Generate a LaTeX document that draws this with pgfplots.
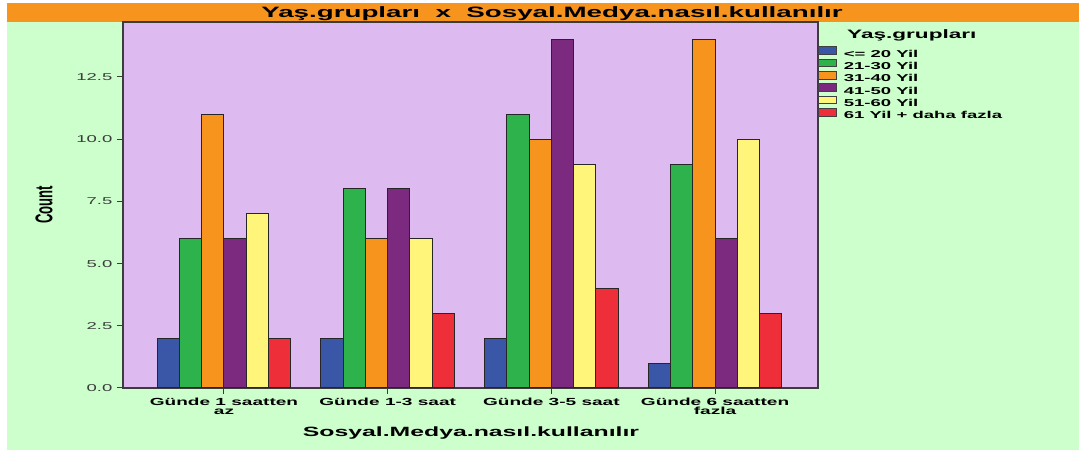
\documentclass[border=0pt]{standalone}
\usepackage{fontspec}
\setmainfont{Liberation Sans}[FakeStretch=1.85]
\newfontfamily\countfont{Liberation Sans}
\usepackage{graphicx}
\usepackage{pgfplots}
\pgfplotsset{compat=1.18}
\definecolor{bgg}{HTML}{CCFFCC}
\definecolor{ttl}{HTML}{F7941D}
\definecolor{plotbg}{HTML}{DDBAF0}
\definecolor{axl}{HTML}{3C3C3C}
\definecolor{cblue}{HTML}{3A56A6}
\definecolor{cgreen}{HTML}{2EB24B}
\definecolor{corange}{HTML}{F7941E}
\definecolor{cpurple}{HTML}{7B2A7F}
\definecolor{cyellow}{HTML}{FFF57A}
\definecolor{cred}{HTML}{EE2E38}

\begin{document}
\begin{tikzpicture}
% canvas: 1 px of the reference = 1 pt, origin at the bottom left
\fill[white] (0pt,0pt) rectangle (1079pt,454pt);
\fill[bgg] (7pt,4pt) rectangle (1079pt,432pt);
\fill[ttl] (7pt,432pt) rectangle (1079pt,451pt);
\node[anchor=base, inner sep=0pt, font=\bfseries\fontsize{15}{18}\selectfont]
  at (552pt,436.1pt) {Yaş.grupları\ \ x\ \ Sosyal.Medya.nasıl.kullanılır};

\begin{axis}[
  at={(123pt,66pt)}, anchor=south west,
  width=695pt, height=366pt, scale only axis,
  axis background/.style={fill=plotbg},
  axis line style={axl, line width=1.3pt},
  ybar, bar width=0.136,
  xmin=-0.617, xmax=3.629, ymin=0, ymax=14.71,
  xtick={0,1,2,3},
  xticklabels={{Günde 1 saatten\\az},{Günde 1-3 saat},{Günde 3-5 saat},{Günde 6 saatten\\fazla}},
  ytick={0,2.5,5,7.5,10,12.5},
  tick pos=left, tick align=outside,
  major tick length=6pt,
  tick style={axl, line width=1pt},
  xticklabel style={align=center, inner sep=0pt, yshift=-3.5pt,
    font=\bfseries\fontsize{10.3}{9.8}\selectfont, text=black},
  yticklabel style={inner sep=0pt, xshift=-4.5pt, font=\fontsize{10}{12}\selectfont, text=axl,
    /pgf/number format/fixed, /pgf/number format/fixed zerofill,
    /pgf/number format/precision=1, /pgf/number format/assume math mode=true},
  every axis plot/.append style={draw=black!85, line width=1pt},
  legend style={at={(1,1)}, anchor=north west, xshift=0pt, yshift=-24.5pt,
    draw=none, fill=none, inner sep=0pt, outer sep=0pt,
    row sep=-0.4pt, column sep=0pt,
    font=\bfseries\fontsize{10}{12}\selectfont,
    nodes={inner sep=0pt, text height=8pt, text depth=2pt}},
  legend cell align=left,
  legend image code/.code={%
    \draw[#1, draw=black!75, line width=0.8pt] (0pt,-0.3pt) rectangle (18pt,7.3pt);
    \path (25pt,0pt);},
  clip=false,
]
\addplot[fill=cblue,   bar shift=-0.340] coordinates {(0,2) (1,2) (2,2) (3,1)};
\addplot[fill=cgreen,  bar shift=-0.204] coordinates {(0,6) (1,8) (2,11) (3,9)};
\addplot[fill=corange, bar shift=-0.068] coordinates {(0,11) (1,6) (2,10) (3,14)};
\addplot[fill=cpurple, bar shift=0.068]  coordinates {(0,6) (1,8) (2,14) (3,6)};
\addplot[fill=cyellow, bar shift=0.204]  coordinates {(0,7) (1,6) (2,9) (3,10)};
\addplot[fill=cred,    bar shift=0.340]  coordinates {(0,2) (1,3) (2,4) (3,3)};
\legend{<= 20 Yil, 21-30 Yil, 31-40 Yil, 41-50 Yil, 51-60 Yil, 61 Yil + daha fazla}
\end{axis}

\node[anchor=base west, inner sep=0pt, font=\bfseries\fontsize{12.2}{14}\selectfont]
  at (847pt,415pt) {Yaş.grupları};
\node[anchor=base, inner sep=0pt, font=\bfseries\fontsize{13.4}{16}\selectfont]
  at (471pt,17.2pt) {Sosyal.Medya.nasıl.kullanılır};
\node[rotate=90, inner sep=0pt, font=\countfont\bfseries\fontsize{13.1}{15}\selectfont]
  at (44pt,249pt) {\scalebox{1}[1.85]{Count}};
\end{tikzpicture}
\end{document}
